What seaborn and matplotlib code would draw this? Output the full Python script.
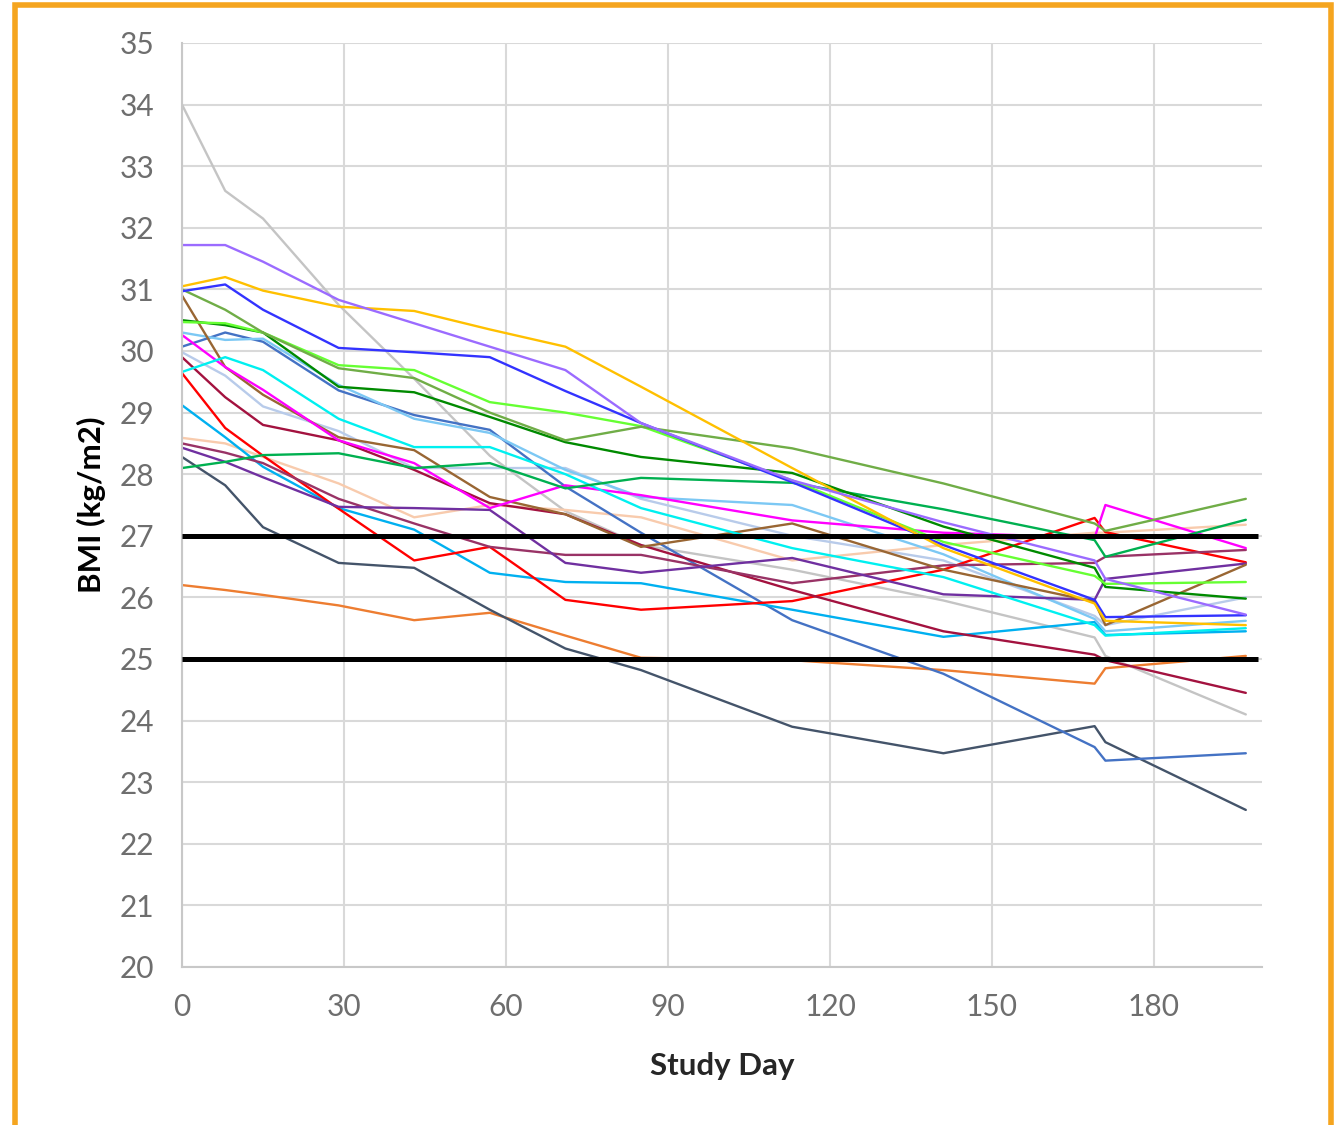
import matplotlib
matplotlib.use("Agg")
import matplotlib.pyplot as plt
import seaborn as sns
import pandas as pd
from matplotlib.patches import Rectangle

# ---------------- data ----------------
study_days = [0, 8, 15, 29, 43, 57, 71, 85, 113, 141, 169, 171, 197]

gray        = [34.0, 32.6, 32.15, 30.75, 29.55, 28.3, 27.4, 26.85, 26.45, 25.95, 25.35, 25.05, 24.1]
lightpurple = [31.72, 31.72, 31.45, 30.83, 30.45, 30.07, 29.69, 28.83, 27.9, 27.22, 26.6, 26.3, 25.72]
yellow      = [31.05, 31.2, 30.98, 30.72, 30.65, 30.35, 30.07, 29.42, 28.1, 26.8, 25.9, 25.62, 25.55]
blue        = [30.97, 31.08, 30.67, 30.05, 29.98, 29.9, 29.35, 28.83, 27.87, 26.85, 25.96, 25.68, 25.71]
olive       = [31.0, 30.67, 30.3, 29.72, 29.56, 29.0, 28.55, 28.77, 28.42, 27.85, 27.2, 27.08, 27.6]
brightgreen = [30.47, 30.45, 30.3, 29.77, 29.69, 29.17, 29.0, 28.78, 27.9, 26.9, 26.35, 26.22, 26.25]
darkgreen   = [30.5, 30.42, 30.3, 29.42, 29.33, 28.93, 28.52, 28.28, 28.02, 27.15, 26.48, 26.17, 25.98]
seagreen    = [28.1, 28.2, 28.31, 28.34, 28.1, 28.18, 27.77, 27.94, 27.86, 27.43, 26.93, 26.66, 27.26]
steelblue   = [30.07, 30.3, 30.15, 29.36, 28.96, 28.72, 27.8, 27.05, 25.63, 24.76, 23.57, 23.35, 23.47]
lightsky    = [30.3, 30.18, 30.2, 29.45, 28.9, 28.67, 28.07, 27.63, 27.5, 26.7, 25.65, 25.45, 25.62]
cyan        = [29.66, 29.9, 29.69, 28.9, 28.44, 28.44, 28.0, 27.45, 26.8, 26.33, 25.55, 25.38, 25.5]
magenta     = [30.26, 29.74, 29.37, 28.55, 28.18, 27.45, 27.82, 27.66, 27.25, 27.05, 26.97, 27.5, 26.8]
brown       = [30.9, 29.74, 29.29, 28.6, 28.39, 27.63, 27.35, 26.82, 27.2, 26.45, 25.93, 25.55, 26.53]
maroon      = [28.5, 28.35, 28.18, 27.6, 27.2, 26.82, 26.69, 26.69, 26.23, 26.52, 26.56, 26.66, 26.77]
darkred     = [29.9, 29.25, 28.8, 28.55, 28.07, 27.53, 27.35, 26.85, 26.12, 25.45, 25.07, 24.98, 24.45]
red         = [29.64, 28.75, 28.3, 27.44, 26.6, 26.82, 25.96, 25.8, 25.94, 26.45, 27.29, 27.06, 26.57]
peach       = [28.59, 28.5, 28.28, 27.85, 27.3, 27.5, 27.42, 27.3, 26.6, 26.85, 27.05, 27.05, 27.18]
lightsteel  = [29.98, 29.6, 29.1, 28.7, 28.1, 28.1, 28.1, 27.6, 27.0, 26.6, 25.7, 25.55, 26.0]
darkpurple  = [28.43, 28.2, 27.95, 27.47, 27.45, 27.42, 26.56, 26.4, 26.64, 26.05, 25.96, 26.3, 26.55]
skyblue     = [29.12, 28.6, 28.12, 27.45, 27.1, 26.4, 26.25, 26.23, 25.8, 25.36, 25.6, 25.39, 25.45]
slate       = [28.28, 27.82, 27.14, 26.56, 26.48, 25.8, 25.17, 24.82, 23.9, 23.47, 23.91, 23.65, 22.55]
orange      = [26.2, 26.12, 26.04, 25.87, 25.63, 25.75, 25.38, 25.02, 24.98, 24.82, 24.6, 24.85, 25.05]

reference_levels = [25, 27]

x_ticks = [0, 30, 60, 90, 120, 150, 180]
y_ticks = list(range(20, 36))

series = {
    "gray": (gray, "#C4C4C4"),
    "lightsteel": (lightsteel, "#B8CBEA"),
    "peach": (peach, "#F8CBAD"),
    "orange": (orange, "#ED7D31"),
    "slate": (slate, "#44546A"),
    "steelblue": (steelblue, "#4472C4"),
    "skyblue": (skyblue, "#00B0F0"),
    "lightsky": (lightsky, "#7CC8F4"),
    "red": (red, "#FF0000"),
    "darkred": (darkred, "#A3123F"),
    "maroon": (maroon, "#993366"),
    "darkpurple": (darkpurple, "#7030A0"),
    "brown": (brown, "#996633"),
    "magenta": (magenta, "#FF00FF"),
    "cyan": (cyan, "#00F0F0"),
    "seagreen": (seagreen, "#00B050"),
    "darkgreen": (darkgreen, "#008A00"),
    "brightgreen": (brightgreen, "#66FF33"),
    "olive": (olive, "#70AD47"),
    "blue": (blue, "#3333FF"),
    "yellow": (yellow, "#FFC000"),
    "lightpurple": (lightpurple, "#9B6BFF"),
}

rows = []
for name, (vals, _) in series.items():
    for d, v in zip(study_days, vals):
        rows.append({"subject": name, "day": d, "bmi": v})
df = pd.DataFrame(rows)
palette = {name: col for name, (_, col) in series.items()}

# ---------------- plot ----------------
sns.set_theme(style="white")
plt.rcParams["font.family"] = ["Lato", "DejaVu Sans"]

fig = plt.figure(figsize=(13.37, 11.25), dpi=100)
ax = fig.add_axes([182/1337, 1 - 967/1125, (1262-182)/1337, (967-43)/1125])

sns.lineplot(data=df, x="day", y="bmi", hue="subject", palette=palette,
             hue_order=list(series.keys()), estimator=None, sort=False,
             linewidth=1.7, legend=False, ax=ax)

ax.hlines(reference_levels, 0, 199.3, colors="black", linewidth=3.6, zorder=5)

ax.set_xlim(0, 200)
ax.set_ylim(20, 35)
ax.set_xticks(x_ticks)
ax.set_yticks(y_ticks)
ax.grid(True, color="#D9D9D9", linewidth=1.5)
ax.set_axisbelow(True)
for s in ["top", "right"]:
    ax.spines[s].set_visible(False)
for s in ["left", "bottom"]:
    ax.spines[s].set_color("#C8C8C8")
    ax.spines[s].set_linewidth(1.5)

ax.tick_params(axis="both", length=0, labelsize=21.5, labelcolor="#6E6E6E")
ax.tick_params(axis="y", pad=20)
ax.tick_params(axis="x", pad=19)

ax.set_xlabel("Study Day", fontsize=22.5, fontweight="bold", color="#262626", labelpad=22)
ax.set_ylabel("BMI (kg/m2)", fontsize=22.5, fontweight="bold", color="black", labelpad=10)

# orange frame
fig.patches.append(Rectangle((15/1337, -0.05), (1331-15)/1337, 1.05 - 5/1125,
                             transform=fig.transFigure, fill=False,
                             edgecolor="#F5A51F", linewidth=4, zorder=10))

fig.savefig("out.png", dpi=100)
